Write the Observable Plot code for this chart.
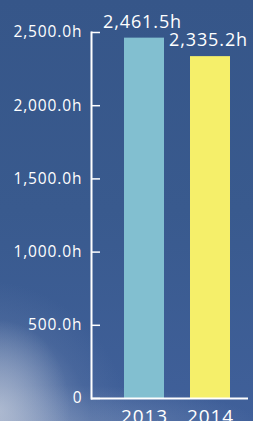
<!DOCTYPE html>
<html>
<head>
<meta charset="utf-8">
<script src="https://cdn.jsdelivr.net/npm/d3@7"></script>
<script src="https://cdn.jsdelivr.net/npm/@observablehq/plot@0.6"></script>
<style>
  html, body { margin: 0; padding: 0; width: 253px; height: 421px; overflow: hidden; }
  body {
    background:
      radial-gradient(ellipse 70px 90px at 0px 410px, rgba(200,208,222,0.55), rgba(200,208,222,0) 100%),
      radial-gradient(ellipse 150px 150px at -20px 430px, rgba(170,182,205,0.8), rgba(140,158,192,0.55) 45%, rgba(100,125,170,0.25) 75%, rgba(63,95,148,0) 100%),
      radial-gradient(ellipse 200px 40px at 60px 425px, rgba(140,160,195,0.5), rgba(140,160,195,0) 100%),
      linear-gradient(180deg, #365689 0%, #395a8e 50%, #40609a 100%);
    font-family: "Open Sans", sans-serif;
  }
  #chart svg { display: block; }
  #chart svg text { letter-spacing: 0.9px; }
</style>
</head>
<body>
<div id="chart"></div>
<script>
const years = ["2013", "2014"];
const hours = [2461.5, 2335.2];
const barColors = ["#82bfd0", "#f5ef6a"];
const yTicks = [0, 500, 1000, 1500, 2000, 2500];

const data = years.map((y, i) => ({year: y, hours: hours[i], color: barColors[i]}));
const fmtTick = d => d === 0 ? "0" : d3.format(",.1f")(d) + "h";
const fmtVal = d => d3.format(",.1f")(d) + "h";

const chart = Plot.plot({
  width: 253,
  height: 421,
  marginLeft: 91,
  marginRight: 5,
  marginTop: 32,
  marginBottom: 23,
  style: {background: "transparent", color: "white", fontFamily: "'Open Sans', sans-serif", overflow: "visible"},
  x: {domain: years, range: [124, 230], paddingInner: 0.394, paddingOuter: 0, label: null},
  y: {domain: [0, 2500], label: null},
  marks: [
    Plot.barY(data, {x: "year", y: "hours", fill: "color"}),
    Plot.frame({anchor: "left", stroke: "white", strokeWidth: 2}),
    Plot.ruleY([0], {stroke: "white", strokeWidth: 2}),
    Plot.axisY({ticks: yTicks, tickFormat: fmtTick, tickSize: -9, tickPadding: 18, stroke: "white", strokeWidth: 1.5, fontSize: 15.5, fill: "white"}),
    Plot.axisX({tickSize: 0, tickPadding: 11, fontSize: 19, fill: "white"}),
    Plot.text(data, {x: "year", y: "hours", text: d => fmtVal(d.hours), dy: -16, dx: -2, fill: "white", fontSize: 18})
  ]
});
document.getElementById("chart").appendChild(chart);
</script>
</body>
</html>
